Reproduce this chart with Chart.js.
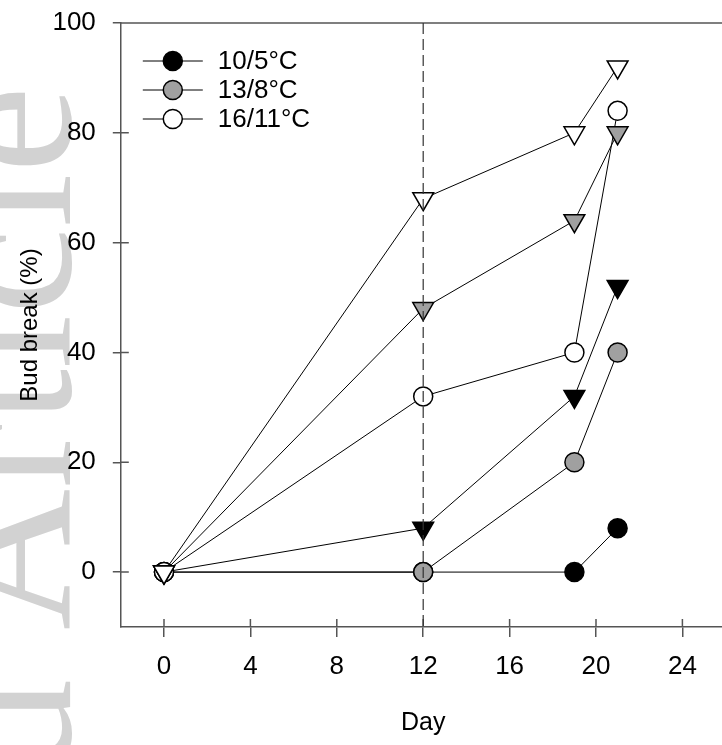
<!DOCTYPE html>
<html>
<head>
<meta charset="utf-8">
<script src="https://cdn.jsdelivr.net/npm/chart.js@4.4.1/dist/chart.umd.min.js"></script>
<style>
  html, body { margin: 0; padding: 0; background: #fff; overflow: hidden; }
  #wrap { position: absolute; left: 0; top: 0; width: 740px; height: 745px; }
</style>
</head>
<body>
<div id="wrap"><canvas id="chart"></canvas></div>
<script>
const days = [0, 12, 19, 21];
const xTicks = [0, 4, 8, 12, 16, 20, 24];
const yTicks = [0, 20, 40, 60, 80, 100];
const legendLabels = ['10/5°C', '13/8°C', '16/11°C'];

// circles
const circ10 = [0, 0, 0, 8];
const circ13 = [0, 0, 20, 40];
const circ16 = [0, 32, 40, 84];
// triangles
const tri10 = [0, 8, 32, 52];
const tri13 = [0, 48, 64, 80];
const tri16 = [0, 68, 80, 92];

const FILLS = ['#000000', '#a0a0a0', '#ffffff'];
const AXIS = '#555555';
const FONT = 'Liberation Sans, Arial, sans-serif';

const pts = vals => days.map((d, i) => ({ x: d, y: vals[i] }));

function series(label, vals, fill, style, order) {
  const tri = style === 'triangle';
  return {
    label, data: pts(vals), order,
    borderColor: '#000', borderWidth: 1,
    pointStyle: style,
    pointRotation: tri ? 180 : 0,
    pointRadius: tri ? 12 : 9.5,
    pointHoverRadius: tri ? 12 : 9.5,
    pointBackgroundColor: fill,
    pointBorderColor: '#000',
    pointBorderWidth: 1.5,
    tension: 0, fill: false, clip: false,
  };
}

const datasets = [
  series('10/5°C', circ10, FILLS[0], 'circle', 6),
  series('13/8°C', circ13, FILLS[1], 'circle', 5),
  series('16/11°C', circ16, FILLS[2], 'circle', 4),
  series('10/5°C tri', tri10, FILLS[0], 'triangle', 3),
  series('13/8°C tri', tri13, FILLS[1], 'triangle', 2),
  series('16/11°C tri', tri16, FILLS[2], 'triangle', 1),
];

// faint watermark at the left edge
const watermark = {
  id: 'watermark',
  beforeDraw(chart) {
    const ctx = chart.ctx;
    ctx.save();
    ctx.rotate(-Math.PI / 2);
    ctx.fillStyle = '#d2d2d2';
    ctx.font = '196px "Liberation Serif", "Times New Roman", serif';
    ctx.textAlign = 'right';
    ctx.textBaseline = 'alphabetic';
    ctx.fillText('Accepted Article', -86, 70);
    ctx.restore();
  }
};

// frame on top, inner half of tick marks, dashed line at day 12, legend
const extras = {
  id: 'extras',
  afterDraw(chart) {
    const { ctx, chartArea: a, scales: { x, y } } = chart;
    ctx.save();
    ctx.strokeStyle = AXIS;
    ctx.lineWidth = 1.5;
    ctx.beginPath();
    ctx.moveTo(a.left, a.top); ctx.lineTo(a.right, a.top);
    yTicks.forEach(v => { const py = y.getPixelForValue(v); ctx.moveTo(a.left, py); ctx.lineTo(a.left + 8, py); });
    xTicks.forEach(v => { const px = x.getPixelForValue(v); ctx.moveTo(px, a.bottom); ctx.lineTo(px, a.bottom - 8); });
    ctx.stroke();

    const dx = x.getPixelForValue(12);
    ctx.strokeStyle = '#333';
    ctx.lineWidth = 1.2;
    ctx.setLineDash([11, 5]);
    ctx.beginPath();
    ctx.moveTo(dx, a.top); ctx.lineTo(dx, a.bottom);
    ctx.stroke();
    ctx.setLineDash([]);

    legendLabels.forEach((lab, i) => {
      const ly = a.top + 38 + i * 29;
      const cx = a.left + 52;
      ctx.strokeStyle = '#000';
      ctx.lineWidth = 1;
      ctx.beginPath();
      ctx.moveTo(a.left + 22, ly); ctx.lineTo(a.left + 82, ly);
      ctx.stroke();
      ctx.beginPath();
      ctx.arc(cx, ly, 9.5, 0, Math.PI * 2);
      ctx.fillStyle = FILLS[i];
      ctx.fill();
      ctx.lineWidth = 1.5;
      ctx.stroke();
      ctx.fillStyle = '#000';
      ctx.font = '26px ' + FONT;
      ctx.textAlign = 'left';
      ctx.textBaseline = 'middle';
      ctx.fillText(lab, a.left + 97, ly + 1);
    });
    ctx.restore();
  }
};

new Chart(document.getElementById('chart'), {
  type: 'line',
  data: { datasets },
  plugins: [watermark, extras],
  options: {
    responsive: true, maintainAspectRatio: false,
    animation: false,
    layout: { padding: { top: 23, right: 14.4, bottom: 0, left: 0 } },
    plugins: { legend: { display: false }, tooltip: { enabled: false } },
    scales: {
      x: {
        type: 'linear', min: -2, max: 26,
        afterBuildTicks: s => { s.ticks = xTicks.map(v => ({ value: v })); },
        afterFit: s => { s.height = 118; s.paddingLeft = 0; s.paddingRight = 0; },
        grid: { display: true, drawOnChartArea: false, drawTicks: true, tickLength: 10, color: AXIS, lineWidth: 1.5 },
        border: { display: true, color: AXIS, width: 1.5 },
        ticks: { color: '#000', font: { family: FONT, size: 26 }, padding: 14, maxRotation: 0, autoSkip: false },
        title: { display: true, text: 'Day', color: '#000', font: { family: FONT, size: 25 }, padding: { bottom: 7 } }
      },
      y: {
        type: 'linear', min: -10, max: 100,
        afterBuildTicks: s => { s.ticks = yTicks.map(v => ({ value: v })); },
        afterFit: s => { s.width = 120.8; s.paddingTop = 0; s.paddingBottom = 0; },
        grid: { display: true, drawOnChartArea: false, drawTicks: true, tickLength: 8, color: AXIS, lineWidth: 1.5 },
        border: { display: true, color: AXIS, width: 1.5 },
        ticks: { color: '#000', font: { family: FONT, size: 26 }, padding: 17 },
        title: { display: true, text: 'Bud break (%)', color: '#000', font: { family: FONT, size: 24 }, padding: { top: 16 } }
      }
    }
  }
});
</script>
</body>
</html>
